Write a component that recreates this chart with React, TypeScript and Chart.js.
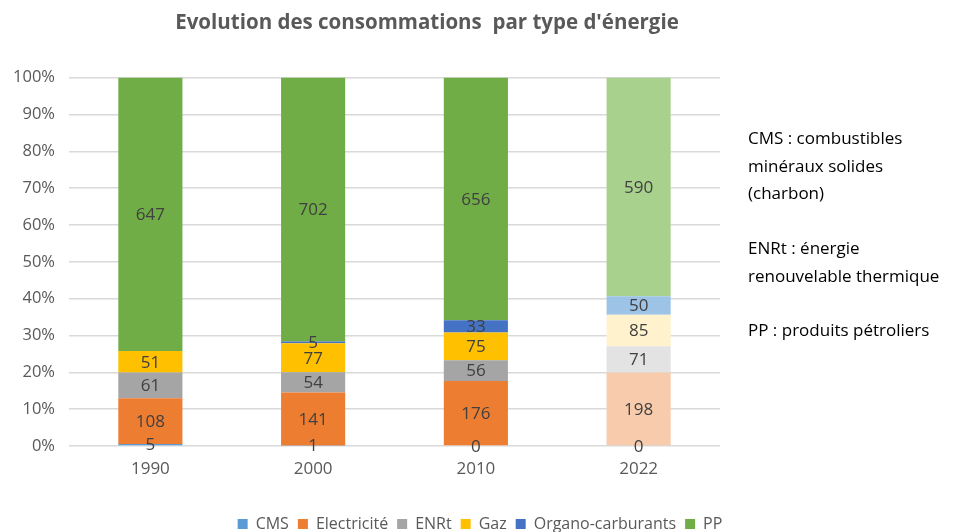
import React, { useEffect, useRef } from "react";
import { Chart, registerables } from "chart.js";

Chart.register(...registerables);

const categories = ["1990", "2000", "2010", "2022"];
const seriesNames = ["CMS", "Electricité", "ENRt", "Gaz", "Organo-carburants", "PP"];
const cms = [5, 1, 0, 0];
const electricite = [108, 141, 176, 198];
const enrt = [61, 54, 56, 71];
const gaz = [51, 77, 75, 85];
const organo: (number | null)[] = [null, 5, 33, 50];
const pp = [647, 702, 656, 590];
const yTicks = [0, 10, 20, 30, 40, 50, 60, 70, 80, 90, 100];

const baseColors = ["#5B9BD5", "#ED7D31", "#A5A5A5", "#FFC000", "#4472C4", "#70AD47"];
const lightColors = ["#BDD7EE", "#F8CBAD", "#E3E3E3", "#FFF2CC", "#9DC3E6", "#A9D18E"];

const FONT = "'Open Sans', 'Liberation Sans', sans-serif";

export default function App() {
  const ref = useRef<HTMLCanvasElement>(null);

  useEffect(() => {
    document.body.style.margin = "0";
    const raw = [cms, electricite, enrt, gaz, organo, pp];
    const totals = categories.map((_, j) =>
      raw.reduce((s, arr) => s + ((arr[j] as number) || 0), 0)
    );
    const datasets = raw.map((arr, i) => ({
      label: seriesNames[i],
      data: arr.map((v, j) => (v == null ? null : ((v as number) / totals[j]) * 100)),
      backgroundColor: categories.map((_, j) => (j === 3 ? lightColors[i] : baseColors[i])),
      borderWidth: 0,
      barPercentage: 0.394,
      categoryPercentage: 1,
      yAxisID: "y",
    }));

    const labelPlugin = {
      id: "valueLabels",
      afterLayout(chart: any) {
        const t = chart.titleBlock;
        if (t) {
          t.right = t.left + 854;
          t.width = 854;
        }
      },
      afterDatasetsDraw(chart: any) {
        const ctx = chart.ctx;
        ctx.save();
        ctx.font = `17px ${FONT}`;
        ctx.fillStyle = "#404040";
        ctx.textAlign = "center";
        ctx.textBaseline = "middle";
        raw.forEach((arr, i) => {
          const meta = chart.getDatasetMeta(i);
          meta.data.forEach((bar: any, j: number) => {
            const v = arr[j];
            if (v == null) return;
            const p = bar.getProps(["x", "y", "base"], true);
            ctx.fillText(String(v), p.x, (p.y + p.base) / 2 + 1);
          });
        });
        ctx.restore();
      },
    };

    const chart = new Chart(ref.current as HTMLCanvasElement, {
      type: "bar",
      data: { labels: categories, datasets },
      plugins: [labelPlugin],
      options: {
        animation: false,
        responsive: false,
        maintainAspectRatio: false,
        layout: { padding: { left: 0, right: 10, top: 0, bottom: -10 } },
        plugins: {
          tooltip: { enabled: false },
          title: {
            display: true,
            text: "Evolution des consommations  par type d'énergie",
            color: "#595959",
            font: { family: FONT, size: 20.5, weight: "bold" },
            padding: { top: 11, bottom: 42 },
          },
          legend: {
            display: true,
            position: "bottom",
            labels: {
              color: "#595959",
              font: { family: FONT, size: 16 },
              boxWidth: 10,
              boxHeight: 10,
              padding: 9,
            },
          },
        },
        scales: {
          x: {
            stacked: true,
            grid: { display: false, drawTicks: false },
            border: { display: false },
            ticks: { color: "#595959", font: { family: FONT, size: 17 }, padding: 13 },
            afterFit(scale: any) {
              scale.height = 61;
            },
          },
          y: {
            stacked: true,
            min: 0,
            max: 100,
            afterBuildTicks(scale: any) {
              scale.ticks = yTicks.map((v) => ({ value: v }));
            },
            ticks: {
              color: "#595959",
              font: { family: FONT, size: 16.5 },
              padding: 14,
              callback: (v: any) => `${v}%`,
            },
            grid: { color: "#D9D9D9", lineWidth: 1.5, drawTicks: false },
            border: { display: false },
            afterFit(scale: any) {
              scale.width = 69;
            },
          },
          yRight: {
            position: "right",
            min: 0,
            max: 100,
            grid: { display: false, drawTicks: false },
            border: { display: false },
            ticks: { display: false },
            afterFit(scale: any) {
              scale.width = 240;
            },
          },
        },
      },
    } as any);
    return () => chart.destroy();
  }, []);

  const textStyle: React.CSSProperties = {
    position: "absolute",
    left: 748,
    fontFamily: FONT,
    fontSize: 17,
    lineHeight: "27.5px",
    color: "#000",
    whiteSpace: "nowrap",
  };

  return (
    <div style={{ position: "relative", width: 970, height: 532, background: "#fff" }}>
      <canvas ref={ref} width={970} height={532} style={{ display: "block" }} />
      <div style={{ ...textStyle, top: 124 }}>
        CMS : combustibles
        <br />
        minéraux solides
        <br />
        (charbon)
      </div>
      <div style={{ ...textStyle, top: 234 }}>
        ENRt : énergie
        <br />
        renouvelable thermique
      </div>
      <div style={{ ...textStyle, top: 316 }}>PP : produits pétroliers</div>
    </div>
  );
}
